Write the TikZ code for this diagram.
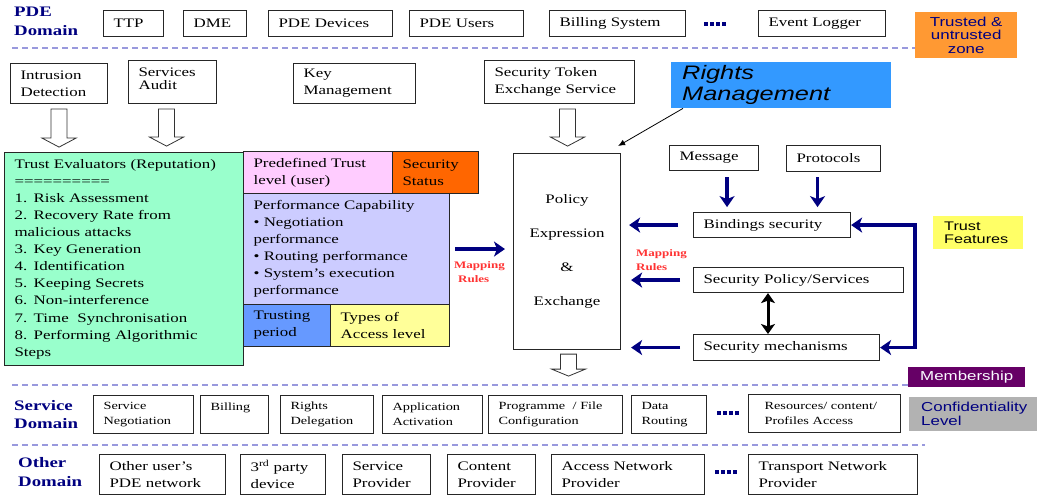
\documentclass[tikz,border=0pt]{standalone}
\usepackage{fontspec}
\setmainfont{Liberation Serif}[FakeStretch=1.3]
\newfontfamily\sansf{Liberation Sans}[FakeStretch=1.3]
\usetikzlibrary{arrows.meta,calc}
\definecolor{navy}{HTML}{000080}
\definecolor{teGreen}{HTML}{99FFCC}
\definecolor{pdPink}{HTML}{FFCCFF}
\definecolor{ssOrange}{HTML}{FF6600}
\definecolor{pfLav}{HTML}{CCCCFF}
\definecolor{tpBlue}{HTML}{6699FF}
\definecolor{tyYellow}{HTML}{FFFF99}
\definecolor{tzOrange}{HTML}{FF9933}
\definecolor{rmBlue}{HTML}{3399FF}
\definecolor{tfYellow}{HTML}{FFFF66}
\definecolor{memPurple}{HTML}{660066}
\definecolor{confGray}{HTML}{B2B2B2}
\definecolor{dashCol}{HTML}{9999DD}
\definecolor{mapRed}{HTML}{FF3333}
\newcommand\mainsz{\fontsize{13}{17}\selectfont}
\newcommand\smallsz{\fontsize{11}{15}\selectfont}
\newcommand\sqdots{\textcolor{navy}{\rule{4pt}{4pt}\hspace{2pt}\rule{4pt}{4pt}\hspace{2pt}\rule{4pt}{4pt}\hspace{2pt}\rule{4pt}{4pt}}}
\newcommand\blockarrow[3]{\draw[hollow] #1 ++(-8,0) -- ++(16,0) -- ++(0,#2-#3) -- ++(9,0) -- ++(-17,#3) -- ++(-17,-#3) -- ++(9,0) -- cycle;}
\tikzset{
  bx/.style={draw=black!85, line width=1.1pt, inner xsep=10pt, inner ysep=0pt, align=left, anchor=north west, font=\mainsz},
  sbx/.style={bx, font=\smallsz},
  tag/.style={inner sep=0pt, anchor=north west, font=\sansf\fontsize{13}{14}\selectfont},
  domlabel/.style={inner sep=0pt, anchor=west, align=left, text=navy, font=\bfseries\fontsize{14.5}{18.5}\selectfont},
  maprule/.style={inner sep=0pt, anchor=west, align=left, text=mapRed, font=\bfseries\fontsize{10}{14}\selectfont},
  dashline/.style={draw=dashCol, line width=1.2pt, dash pattern=on 6pt off 4pt},
  navyarr/.style={draw=navy, line width=3.5pt, >={Stealth[length=11pt,width=15pt,inset=3pt]}, ->},
  blkarr/.style={draw=black, line width=3pt, >={Stealth[length=10pt,width=14pt,inset=2.5pt]}, <->},
  thinarr/.style={draw=black, line width=0.8pt, -{Latex[length=7pt,width=6pt]}},
  hollow/.style={draw=black!80, line width=0.8pt, fill=white},
  dots/.style={inner sep=0pt}
}
\begin{document}
\begin{tikzpicture}[x=1pt,y=-1pt]
\useasboundingbox (0,0) rectangle (1037,497);
% dashed separators
\draw[dashline] (12,48) -- (915,48);
\draw[dashline] (12,385) -- (908,385);
\draw[dashline] (12,445) -- (925,445);

% PDE domain
\node[domlabel] (pdel) at (14,21.5) {PDE\\Domain};
\node[bx, minimum height=26pt, text width=40pt] (ttp) at (103,10) {TTP};
\node[bx, minimum height=26pt, text width=43pt] (dme) at (183,10) {DME};
\node[bx, minimum height=26pt, text width=104pt] (pdev) at (268,10) {PDE Devices};
\node[bx, minimum height=26pt, text width=94pt] (puser) at (409,10) {PDE Users};
\node[bx, minimum height=26pt, text width=116pt] (bill) at (549,10) {Billing System};
\node[dots] (d1) at (714.5,24) {\sqdots};
\node[bx, minimum height=26pt, text width=107pt] (elog) at (758,10) {Event Logger};
\node[tag, fill=tzOrange, text=navy, minimum width=102pt, minimum height=46pt, align=center, font=\sansf\fontsize{13}{13.5}\selectfont] (tz) at (915,12) {Trusted \&\\untrusted\\zone};

% second row
\node[bx, minimum height=40pt, text width=77pt] (intr) at (10,63) {Intrusion\\Detection};
\node[bx, minimum height=43pt, text width=68pt, font=\fontsize{13}{13}\selectfont] (aud) at (128,60) {Services\\Audit\\[-6pt]\mbox{}};
\node[bx, minimum height=40pt, text width=102pt] (key) at (293,63) {Key\\Management};
\node[bx, minimum height=43pt, text width=130pt] (tok) at (484,60) {Security Token\\Exchange Service};
\node[tag, fill=rmBlue, minimum height=46pt, text width=198pt, inner xsep=11pt, align=left, font=\sansf\itshape\fontsize{19.5}{20.5}\selectfont] (rm) at (671,62) {Rights\\Management};

% left block
\node[bx, fill=teGreen, minimum height=213pt, text width=219pt, font=\fontsize{13}{17.1}\selectfont] (te) at (4,152) {Trust Evaluators (Reputation)\\==========\\1. Risk Assessment\\2. Recovery Rate from\\malicious attacks\\3. Key Generation\\4. Identification\\5. Keeping Secrets\\6. Non-interference\\7. Time\ \ Synchronisation\\8. Performing Algorithmic\\Steps};
\node[bx, fill=pdPink, minimum height=42pt, text width=129pt] (pdt) at (243,151) {Predefined Trust\\level (user)};
\node[bx, fill=ssOrange, minimum height=42pt, text width=66pt] (ss) at (392,151) {Security\\Status};
\node[bx, fill=pfLav, minimum height=111pt, text width=186pt] (perf) at (243,193) {Performance Capability\\• Negotiation\\performance\\• Routing performance\\• System’s execution\\performance};
\node[bx, fill=tpBlue, minimum height=42pt, text width=67pt] (tp) at (243,304) {Trusting\\period};
\node[bx, fill=tyYellow, minimum height=42pt, text width=99pt] (ty) at (330,304) {Types of\\Access level};

% policy
\node[draw=black!85, line width=1.1pt, anchor=north west, minimum width=107pt, minimum height=196pt, inner sep=0pt, align=center, font=\fontsize{13}{34}\selectfont] (pol) at (513,153) {Policy\\Expression\\\&\\Exchange};

% right block
\node[bx, minimum height=25pt, text width=69pt] (msg) at (669,145) {Message};
\node[bx, minimum height=26pt, text width=74pt] (prot) at (786,145) {Protocols};
\node[bx, minimum height=25pt, text width=137pt] (bind) at (693,212) {Bindings security};
\node[bx, minimum height=25pt, text width=190pt] (sp) at (693,267) {Security Policy/Services};
\node[bx, minimum height=26pt, text width=166pt] (mech) at (693,334) {Security mechanisms};
\node[tag, fill=tfYellow, minimum height=33pt, text width=68pt, inner xsep=11pt, align=left, font=\sansf\fontsize{12.5}{13.5}\selectfont] (tf) at (933,216) {Trust\\Features};

\node[maprule] (mr1) at (454,272.5) {Mapping\\\hspace*{4pt}Rules};
\node[maprule] (mr2) at (636,260.5) {Mapping\\Rules};

% tags lower right
\node[tag, fill=memPurple, text=white!90!pfLav, minimum width=117pt, minimum height=20pt, align=center] (mem) at (908,367) {Membership};
\node[tag, fill=confGray, text=navy, minimum height=34pt, text width=128pt, inner xsep=0pt, align=left] (conf) at (909,397) {\hspace*{12pt}Confidentiality\\\hspace*{12pt}Level};

% service domain
\node[domlabel] (sdl) at (14,414.5) {Service\\Domain};
\node[sbx, minimum height=38pt, text width=80pt] (sn) at (93,395) {Service\\Negotiation};
\node[sbx, minimum height=38pt, text width=48pt] (sbill) at (200,395) {Billing\\\mbox{}};
\node[sbx, minimum height=38pt, text width=73pt] (rd) at (280,395) {Rights\\Delegation};
\node[sbx, minimum height=38pt, text width=80pt] (aa) at (382,395) {Application\\Activation};
\node[sbx, minimum height=38pt, text width=114pt] (pf) at (488,395) {Programme\ \ / File\\Configuration};
\node[sbx, minimum height=38pt, text width=55pt] (dr) at (631,395) {Data\\Routing};
\node[dots] (d2) at (727.5,413) {\sqdots};
\node[sbx, minimum height=38pt, text width=120pt, inner xsep=16pt] (res) at (748,394) {Resources/ content/\\Profiles Access};

% other domain
\node[domlabel] (odl) at (18,472) {Other\\Domain};
\node[bx, minimum height=40pt, text width=106pt] (ou) at (99,454) {Other user’s\\PDE network};
\node[bx, minimum height=40pt, text width=65pt] (tpd) at (240,454) {3\textsuperscript{rd} party\\device};
\node[bx, minimum height=40pt, text width=68pt] (spv) at (342,454) {Service\\Provider};
\node[bx, minimum height=40pt, text width=68pt] (cpv) at (447,454) {Content\\Provider};
\node[bx, minimum height=40pt, text width=133pt] (anp) at (551,454) {Access Network\\Provider};
\node[dots] (d3) at (725.5,472) {\sqdots};
\node[bx, minimum height=40pt, text width=149pt] (tnp) at (748,454) {Transport Network\\Provider};

% hollow block arrows
\blockarrow{($(intr.south)+(0,5)$)}{38}{9}
\blockarrow{($(aud.south)+(-6,5)$)}{37}{9}
\blockarrow{($(tok.south)+(8,5)$)}{37}{9}
\blockarrow{($(pol.south)+(1.5,4)$)}{22}{7}

% rights management pointer
\draw[thinarr] ($(rm.south west)+(12,0)$) -- ($(pol.north east)+(-3,-7)$);

% navy connectors
\draw[navyarr] ($(perf.east)+(5,0)$) -- ($(perf.east -| pol.west)+(-8,0)$);
\draw[navyarr] ($(bind.west)+(-15,0)$) -- ($(bind.west -| pol.east)+(8,0)$);
\draw[navyarr] ($(sp.west)+(-13,0)$) -- ($(sp.west -| pol.east)+(10,0)$);
\draw[navyarr] ($(mech.west)+(-13,0)$) -- ($(mech.west -| pol.east)+(10,0)$);
\draw[navyarr] ($(msg.south)+(13,6)$) -- ($(msg.south)+(13,36)$);
\draw[navyarr] ($(prot.south)+(-16,5)$) -- ($(prot.south)+(-16,35)$);
\coordinate (lx) at (915,0);
\draw[navyarr, <->] (bind.east) -- (bind.east -| lx) -- (mech.east -| lx) -- (mech.east);
\coordinate (dx) at (768,0);
\draw[blkarr] (sp.south -| dx) -- (mech.north -| dx);
\end{tikzpicture}
\end{document}
